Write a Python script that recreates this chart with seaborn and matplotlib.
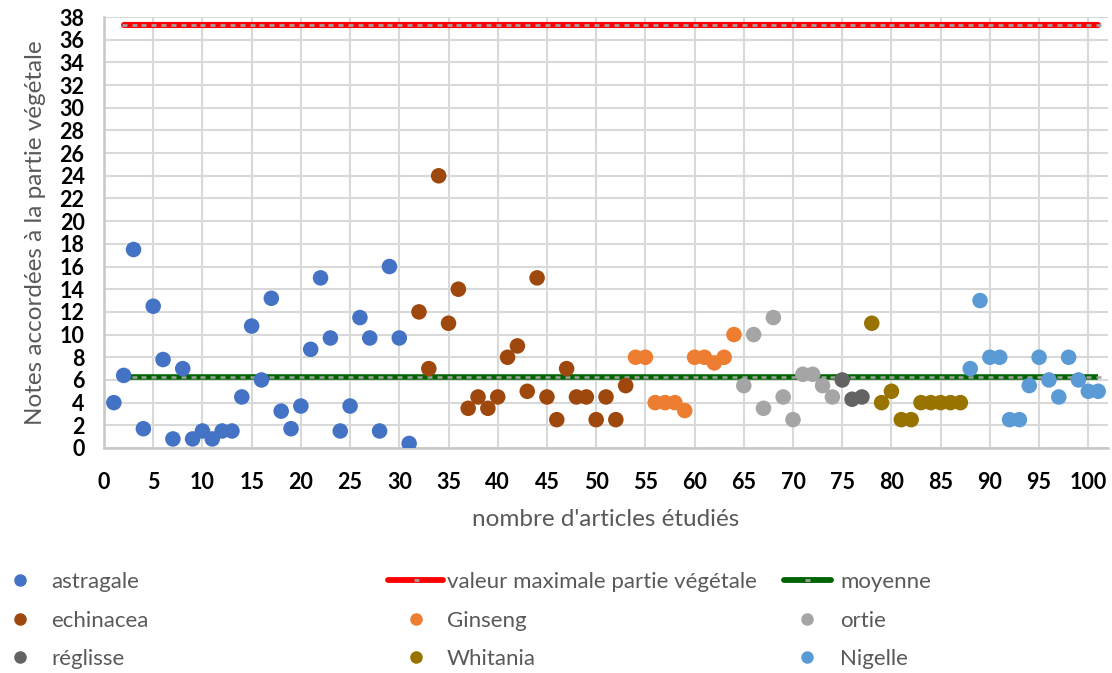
import matplotlib
matplotlib.use("Agg")
import matplotlib.pyplot as plt
from matplotlib.lines import Line2D
import seaborn as sns
import pandas as pd

# ---- data ----
astragale = [4, 6.4, 17.5, 1.7, 12.5, 7.8, 0.8, 7, 0.8, 1.5, 0.8, 1.5, 1.5, 4.5,
             10.75, 6, 13.2, 3.25, 1.7, 3.7, 8.7, 15, 9.7, 1.5, 3.7, 11.5, 9.7,
             1.5, 16, 9.7, 0.4]
echinacea = [12, 7, 24, 11, 14, 3.5, 4.5, 3.5, 4.5, 8, 9, 5, 15, 4.5, 2.5, 7,
             4.5, 4.5, 2.5, 4.5, 2.5, 5.5]
ginseng = [8, 8, 4, 4, 4, 3.3, 8, 8, 7.5, 8, 10]
ortie = [5.5, 10, 3.5, 11.5, 4.5, 2.5, 6.5, 6.5, 5.5, 4.5]
reglisse = [6, 4.3, 4.5]
whitania = [11, 4, 5, 2.5, 2.5, 4, 4, 4, 4, 4]
nigelle = [7, 13, 8, 8, 2.5, 2.5, 5.5, 8, 6, 4.5, 8, 6, 5, 5]

species_names = ["astragale", "echinacea", "Ginseng", "ortie", "réglisse",
                 "Whitania", "Nigelle"]
species_values = [astragale, echinacea, ginseng, ortie, reglisse, whitania, nigelle]
species_colors = ["#4472C4", "#9E480E", "#ED7D31", "#A5A5A5", "#636363",
                  "#997300", "#5B9BD5"]

max_label = "valeur maximale partie végétale"
mean_label = "moyenne"
max_value = 37.3
mean_value = 6.3
line_first_article = 2
line_last_article = 101

x_ticks = list(range(0, 101, 5))
y_ticks = list(range(0, 39, 2))
x_label = "nombre d'articles étudiés"
y_label = "Notes accordées à la partie végétale"

# ---- build table ----
rows = []
article = 1
for name, vals in zip(species_names, species_values):
    for v in vals:
        rows.append({"article": article, "note": v, "espece": name})
        article += 1
df = pd.DataFrame(rows)
palette = dict(zip(species_names, species_colors))

line_x = list(range(line_first_article, line_last_article + 1))
lines_df = pd.DataFrame({"article": line_x,
                         "max": [max_value] * len(line_x),
                         "mean": [mean_value] * len(line_x)})

# ---- style ----
sns.set_theme(style="white")
plt.rcParams['font.family'] = ['Lato', 'DejaVu Sans']

W, H = 1112, 673
fig = plt.figure(figsize=(W / 100, H / 100), dpi=100)
ax_l, ax_r, ax_t, ax_b = 104, 1108, 17, 448
ax = fig.add_axes([ax_l / W, 1 - ax_b / H, (ax_r - ax_l) / W, (ax_b - ax_t) / H])

grid_c = "#D9D9D9"
marker_gray = "#A0A0A0"

ax.plot(lines_df["article"], lines_df["max"], color="#FF0000", lw=4.4,
        marker="_", ms=3.6, mew=2.0, mfc=marker_gray, mec=marker_gray,
        solid_capstyle="round", zorder=2)
ax.plot(lines_df["article"], lines_df["mean"], color="#006400", lw=4.0,
        marker="_", ms=3.6, mew=1.8, mfc=marker_gray, mec=marker_gray,
        solid_capstyle="butt", zorder=2)

sns.scatterplot(data=df, x="article", y="note", hue="espece", palette=palette,
                hue_order=species_names, s=125, edgecolor="none", linewidth=0,
                legend=False, ax=ax, zorder=3)

ax.set_xlim(0, 102)
ax.set_ylim(0, 38)
ax.set_xticks(x_ticks)
ax.set_yticks(y_ticks)
ax.grid(True, color=grid_c, lw=1.5, zorder=0)
ax.set_axisbelow(True)
for s in ["top", "right"]:
    ax.spines[s].set_visible(False)
for s in ["left", "bottom"]:
    ax.spines[s].set_color("#C8C8C8")
    ax.spines[s].set_linewidth(1.8)
ax.tick_params(axis="both", length=0, labelsize=15.5, labelcolor="black")
ax.tick_params(axis="y", pad=14)
ax.tick_params(axis="x", pad=17)
for lab in ax.get_xticklabels() + ax.get_yticklabels():
    lab.set_fontweight("bold")

ax.set_xlabel(x_label, fontsize=17.5, color="#595959", va="center")
ax.xaxis.set_label_coords(0.5, (ax_b - 520) / (ax_b - ax_t))
ax.set_ylabel(y_label, fontsize=17.5, color="#595959", va="center")
ax.yaxis.set_label_coords((36 - ax_l) / (ax_r - ax_l), 0.5)

# ---- legend (Excel-like layout, three columns) ----
fs = 16
em = fs * 100 / 72.0


def dot(c):
    return Line2D([], [], ls="none", marker="o", ms=8, mfc=c, mec=c)


def lin(c):
    return Line2D([], [], color=c, lw=4.2, marker="_", ms=3.6, mew=2.0,
                  mfc=marker_gray, mec=marker_gray)


def entry(handle, label, x_start, x_end, x_text, y):
    fig.legend([handle], [label], loc="center left",
               bbox_to_anchor=(x_start / W, 1 - y / H),
               frameon=False, borderpad=0, borderaxespad=0,
               handlelength=(x_end - x_start) / em,
               handletextpad=(x_text - x_end) / em,
               fontsize=fs, labelcolor="#595959", numpoints=1)


rows_y = [582, 621, 659]
col1 = (11, 29, 51)
col2 = (388, 443, 447)
col3 = (784, 831, 840)

entry(dot(palette["astragale"]), "astragale", *col1, rows_y[0])
entry(lin("#FF0000"), max_label, *col2, rows_y[0])
entry(lin("#006400"), mean_label, *col3, rows_y[0])
entry(dot(palette["echinacea"]), "echinacea", *col1, rows_y[1])
entry(dot(palette["Ginseng"]), "Ginseng", *col2, rows_y[1])
entry(dot(palette["ortie"]), "ortie", *col3, rows_y[1])
entry(dot(palette["réglisse"]), "réglisse", *col1, rows_y[2])
entry(dot(palette["Whitania"]), "Whitania", *col2, rows_y[2])
entry(dot(palette["Nigelle"]), "Nigelle", *col3, rows_y[2])

fig.savefig("out.png", dpi=100)
